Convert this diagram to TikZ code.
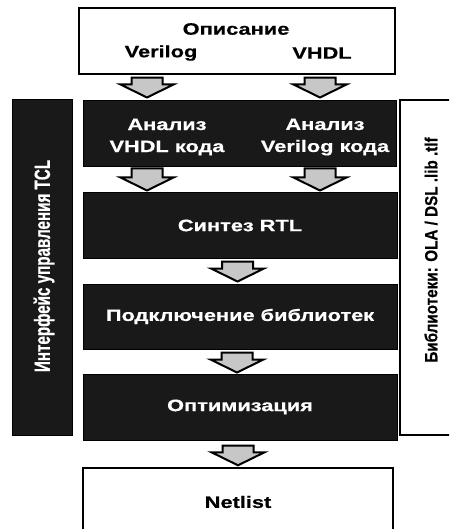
\documentclass[tikz,border=0pt]{standalone}
\usepackage{fontspec}
\setmainfont{Liberation Sans}[FakeStretch=1.32, BoldFeatures={FakeBold=0.6}]
\newfontfamily\sidefont{Liberation Sans}[FakeStretch=0.69, BoldFeatures={FakeBold=0.6}]
\newfontfamily\libfont{Liberation Sans}[FakeStretch=0.87, BoldFeatures={FakeBold=0.6}]
\usetikzlibrary{calc}
\definecolor{boxdark}{gray}{0.1}
\definecolor{arrowgray}{gray}{0.78}

\begin{document}
\begin{tikzpicture}[x=1pt,y=1pt]
		\tikzstyle{darkbox}=[draw=black, fill=boxdark, text=white, line width=1pt, inner sep=0pt, font=\bfseries\fontsize{16.5}{22}\selectfont, align=center]
		\tikzstyle{whitebox}=[draw=black, fill=white, line width=1.4pt, inner sep=0pt]
		\tikzstyle{label}=[font=\bfseries\fontsize{16.5}{22}\selectfont, align=center]
		\tikzstyle{sidelabel}=[rotate=90, font=\sidefont\bfseries\fontsize{22}{24}\selectfont]
		\tikzstyle{fatarrow}=[draw=black, fill=arrowgray, line width=2pt, line join=miter,
			to path={let \p1=(\tikztostart), \p2=(\tikztotarget) in
				(\x1-15.5pt,\y1) -- (\x1+15.5pt,\y1) -- (\x1+15.5pt,\y2+13pt) -- (\x1+26.5pt,\y2+13pt)
				-- (\x1,\y2) -- (\x1-26.5pt,\y2+13pt) -- (\x1-15.5pt,\y2+13pt) -- cycle}]
		\useasboundingbox (0,0) rectangle (449,-529);
		\clip (0,0) rectangle (449,-529);

		% source description
		\node[whitebox, minimum width=316, minimum height=66] (src) at (237,-41) {};
		\node[label] (srctitle) at (236,-29) {Описание};
		\node[label] (srcver) at (161,-53) {Verilog};
		\node[label] (srcvhdl) at (322,-53) {VHDL};

		% flow stages
		\node[darkbox, minimum width=313, minimum height=66] (anl) at (239.5,-134) {};
		\node[label, text=white] (anlvhdl) at (167,-137) {Анализ\\VHDL кода};
		\node[label, text=white] (anlver) at (325,-137) {Анализ\\Verilog кода};
		\node[darkbox, minimum width=314, minimum height=65] (rtl) at (240,-225.5) {Синтез RTL};
		\node[darkbox, minimum width=314, minimum height=65] (lnk) at (240,-316.5) {Подключение библиотек};
		\node[darkbox, minimum width=314, minimum height=66] (opt) at (240,-407) {Оптимизация};
		\node[whitebox, minimum width=310, minimum height=90] (net) at (238,-513) {};
		\node[label] (nettext) at (238,-502) {Netlist};

		% side bars
		\node[darkbox, minimum width=60, minimum height=335] (tcl) at (42,-267.5) {};
		\node[sidelabel, text=white] (tcltext) at (44,-266) {Интерфейс управления TCL};
		\node[whitebox, minimum width=60, minimum height=335] (lib) at (430,-267.5) {};
		\node[sidelabel, font=\libfont\bfseries\fontsize{17.5}{20}\selectfont] (libtext) at (431,-250) {Библиотеки: OLA / DSL .lib .tlf};

		\draw[fatarrow] ([xshift=-90pt,yshift=-3pt]src.south) to ([yshift=3pt]anl.north);
		\draw[fatarrow] ([xshift=83pt,yshift=-3pt]src.south) to ([yshift=3pt]anl.north);
		\draw[fatarrow] ([xshift=-92.5pt,yshift=-1pt]anl.south) to ([yshift=2pt]rtl.north);
		\draw[fatarrow] ([xshift=80.5pt,yshift=-1pt]anl.south) to ([yshift=2pt]rtl.north);
		\draw[fatarrow] ([xshift=-2.5pt,yshift=-3pt]rtl.south) to ([yshift=2pt]lnk.north);
		\draw[fatarrow] ([xshift=-3pt,yshift=-3pt]lnk.south) to ([yshift=1pt]opt.north);
		\draw[fatarrow] ([xshift=-2pt,yshift=-5pt]opt.south) to ([yshift=2pt]net.north);
\end{tikzpicture}
\end{document}
